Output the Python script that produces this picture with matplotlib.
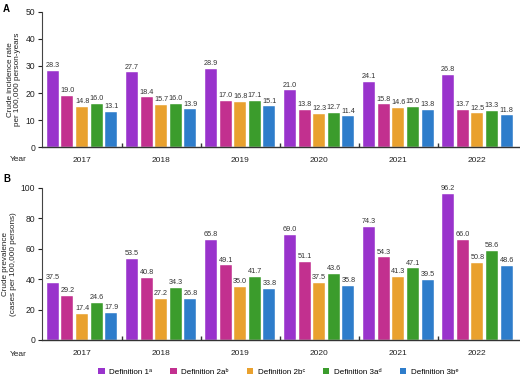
import numpy as np
import matplotlib
matplotlib.use("Agg")
import matplotlib.pyplot as plt
from matplotlib.patches import Patch

plt.rcParams['font.family'] = ['Liberation Sans', 'DejaVu Sans']

years = ['2017', '2018', '2019', '2020', '2021', '2022']
definitions = ['Definition 1\u1d43', 'Definition 2a\u1d47', 'Definition 2b\u1d9c',
               'Definition 3a\u1d48', 'Definition 3b\u1d49']
colors = ['#9933CC', '#C2308F', '#E9A12E', '#3B9C2C', '#2E7DCB']

# panel A: crude incidence rate per 100,000 person-years
incidence_def1 = [28.3, 27.7, 28.9, 21.0, 24.1, 26.8]
incidence_def2a = [19.0, 18.4, 17.0, 13.8, 15.8, 13.7]
incidence_def2b = [14.8, 15.7, 16.8, 12.3, 14.6, 12.5]
incidence_def3a = [16.0, 16.0, 17.1, 12.7, 15.0, 13.3]
incidence_def3b = [13.1, 13.9, 15.1, 11.4, 13.8, 11.8]

# panel B: crude prevalence per 100,000 persons
prevalence_def1 = [37.5, 53.5, 65.8, 69.0, 74.3, 96.2]
prevalence_def2a = [29.2, 40.8, 49.1, 51.1, 54.3, 66.0]
prevalence_def2b = [17.4, 27.2, 35.0, 37.5, 41.3, 50.8]
prevalence_def3a = [24.6, 34.3, 41.7, 43.6, 47.1, 58.6]
prevalence_def3b = [17.9, 26.8, 33.8, 35.8, 39.5, 48.6]

incidence = [incidence_def1, incidence_def2a, incidence_def2b, incidence_def3a, incidence_def3b]
prevalence = [prevalence_def1, prevalence_def2a, prevalence_def2b, prevalence_def3a, prevalence_def3b]

fig = plt.figure(figsize=(5.2, 3.84), dpi=100)
ax_a = fig.add_axes([0.081, 0.617, 0.919, 0.352])
ax_b = fig.add_axes([0.081, 0.1146, 0.919, 0.396])

x = np.arange(len(years))
pitch = 0.185
width = 0.152


def draw_panel(ax, series, ymax, step, ylabel, letter, letter_y):
    for k, vals in enumerate(series):
        pos = x + (k - 2) * pitch
        ax.bar(pos, vals, width=width, color=colors[k], edgecolor='white', linewidth=0.3, zorder=2)
        for p, v in zip(pos, vals):
            ax.text(p, v + ymax * 0.012, f'{v:.1f}', ha='center', va='bottom',
                    fontsize=5.2, color='#333333')
    ax.set_xlim(-0.506, 5.54)
    ax.set_ylim(0, ymax)
    ax.set_yticks(np.arange(0, ymax + 1, step))
    ax.set_xticks(x)
    ax.set_xticklabels(years)
    ax.set_xticks(x[:-1] + 0.5, minor=True)
    ax.tick_params(axis='x', which='major', length=0, pad=7, labelsize=6, colors='#222222')
    ax.tick_params(axis='x', which='minor', direction='in', length=3, width=1, color='#333333')
    ax.tick_params(axis='y', length=3, width=0.8, pad=2, labelsize=6.2, colors='#222222')
    for s in ['top', 'right']:
        ax.spines[s].set_visible(False)
    ax.spines['left'].set_color('#444444')
    ax.spines['bottom'].set_color('#333333')
    ax.spines['left'].set_linewidth(0.8)
    ax.spines['bottom'].set_linewidth(1.0)
    ax.set_ylabel(ylabel, fontsize=5.9, color='#222222', labelpad=3, linespacing=1.1)
    ax.text(-0.032, -0.095, 'Year', transform=ax.transAxes, ha='right', va='center',
            fontsize=6, color='#222222')
    ax.text(-0.082, letter_y, letter, transform=ax.transAxes, ha='left', va='center',
            fontsize=7, fontweight='bold')


draw_panel(ax_a, incidence, 50, 10,
           'Crude incidence rate\nper 100,000 person-years', 'A', 1.02)
draw_panel(ax_b, prevalence, 100, 20,
           'Crude prevalence\n(cases per 100,000 persons)', 'B', 1.06)

handles = [Patch(facecolor=c, edgecolor='none') for c in colors]
fig.legend(handles, definitions, loc='center', bbox_to_anchor=(0.535, 0.031), ncol=5,
           frameon=False, fontsize=5.8, handlelength=0.8, handleheight=0.8,
           handletextpad=0.6, columnspacing=2.2)

fig.savefig('out.png', dpi=100)
